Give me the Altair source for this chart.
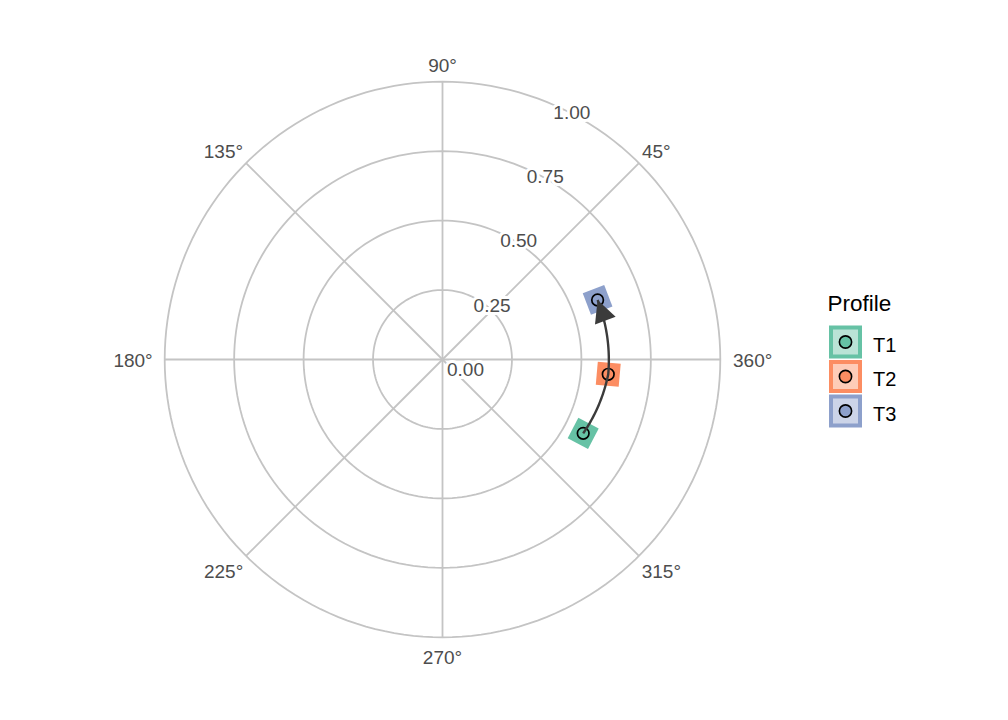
import math
import altair as alt
import numpy as np
import pandas as pd

# ---------------- data ----------------
profiles = ["T1", "T2", "T3"]
profile_r = [0.572, 0.599, 0.598]
profile_theta = [-27.7, -5.1, 21.0]          # degrees, counter-clockwise from 3 o'clock
profile_colors = ["#66c2a5", "#fc8d62", "#8da0cb"]

ring_breaks = [0.25, 0.50, 0.75, 1.00]
radial_tick_values = [0.00, 0.25, 0.50, 0.75, 1.00]
radial_tick_labels = ["0.00", "0.25", "0.50", "0.75", "1.00"]
angle_tick_values = [45, 90, 135, 180, 225, 270, 315, 360]
angle_tick_labels = ["45°", "90°", "135°", "180°", "225°", "270°", "315°", "360°"]
spoke_angles = [0, 45, 90, 135, 180, 225, 270, 315]
legend_title = "Profile"

# ---------------- layout / style ----------------
R_PX = 277.8                 # pixels per radius unit
W, H = 992, 704              # plot area (page minus 8px margins)
CX, CY = 434.5, 351.5        # pole position inside plot area
FONT = "Liberation Sans"
GRID = "#c4c4c4"
AXIS_TXT = "#4d4d4d"
RADIAL_LABEL_ANGLE = 67.5

xdom = [-CX / R_PX, (W - CX) / R_PX]
ydom = [-(H - CY) / R_PX, CY / R_PX]
X = lambda f: alt.X(f, type="quantitative", scale=alt.Scale(domain=xdom, nice=False, zero=False), axis=None)
Y = lambda f: alt.Y(f, type="quantitative", scale=alt.Scale(domain=ydom, nice=False, zero=False), axis=None)
cscale = alt.Scale(domain=profiles, range=profile_colors)


def pol(r, deg):
    a = math.radians(deg)
    return r * math.cos(a), r * math.sin(a)


def page_to_unit(px, py):
    return (px - 8 - CX) / R_PX, -(py - 8 - CY) / R_PX


# ---------------- grid ----------------
ring_rows = []
for rb in ring_breaks:
    for i, d in enumerate(range(0, 361, 2)):
        x, y = pol(rb, d)
        ring_rows.append({"ring": rb, "i": i, "x": x, "y": y})
rings = alt.Chart(pd.DataFrame(ring_rows)).mark_line(color=GRID, strokeWidth=1.8).encode(
    x=X("x"), y=Y("y"), detail="ring:N", order="i:Q")

spoke_rows = []
for a in spoke_angles:
    x2, y2 = pol(1.0, a)
    spoke_rows.append({"x": 0.0, "y": 0.0, "x2": x2, "y2": y2})
spokes = alt.Chart(pd.DataFrame(spoke_rows)).mark_rule(color=GRID, strokeWidth=1.8).encode(
    x=X("x"), y=Y("y"), x2="x2:Q", y2="y2:Q")

# radial tick labels (with white halo over grid)
rl_rows = []
for v, lab in zip(radial_tick_values, radial_tick_labels):
    x, y = pol(v, RADIAL_LABEL_ANGLE)
    rl_rows.append({"x": x, "y": y, "label": lab})
rl_df = pd.DataFrame(rl_rows)
rl_common = dict(align="left", baseline="alphabetic", dx=4.5, dy=16.3, font=FONT, fontSize=19)
rl_halo = alt.Chart(rl_df).mark_text(color="white", stroke="white", strokeWidth=6, **rl_common).encode(
    x=X("x"), y=Y("y"), text="label:N")
rl_text = alt.Chart(rl_df).mark_text(color=AXIS_TXT, **rl_common).encode(
    x=X("x"), y=Y("y"), text="label:N")

# angle tick labels
angle_style = {  # align, dx, dy
    45: ("left", 3.0, -4.8), 90: ("center", 0, -10.0), 135: ("right", -3.0, -4.8),
    180: ("right", -12.0, 7.3), 225: ("right", -2.8, 21.8), 270: ("center", 0, 26.7),
    315: ("left", 2.8, 21.8), 360: ("left", 12.7, 7.3),
}
angle_layers = []
for v, lab in zip(angle_tick_values, angle_tick_labels):
    x, y = pol(1.0, v)
    al, dx, dy = angle_style[v]
    angle_layers.append(
        alt.Chart(pd.DataFrame([{"x": x, "y": y, "label": lab}])).mark_text(
            align=al, baseline="alphabetic", dx=dx, dy=dy, font=FONT, fontSize=19, color=AXIS_TXT
        ).encode(x=X("x"), y=Y("y"), text="label:N"))

# ---------------- data marks ----------------
pts = []
for p, r, t in zip(profiles, profile_r, profile_theta):
    x, y = pol(r, t)
    pts.append({"profile": p, "x": x, "y": y, "rot": -t})
pts_df = pd.DataFrame(pts)

squares = alt.Chart(pts_df).mark_point(shape="square", filled=True, size=529, opacity=1).encode(
    x=X("x"), y=Y("y"), color=alt.Color("profile:N", scale=cscale, legend=None), angle=alt.Angle("rot:Q", scale=None))
circles = alt.Chart(pts_df).mark_point(shape="circle", filled=True, size=135, opacity=1,
                                       stroke="black", strokeWidth=1.7).encode(
    x=X("x"), y=Y("y"), fill=alt.Fill("profile:N", scale=cscale, legend=None))

# arrow path: straight path in (r, theta) space, drawn through the polar transform
path_rows = []
k = 0
for j in range(len(profiles) - 1):
    r0, r1 = profile_r[j], profile_r[j + 1]
    t0, t1 = profile_theta[j], profile_theta[j + 1]
    for s in np.linspace(0, 1, 40)[: -1 if j < len(profiles) - 2 else None]:
        x, y = pol(r0 + s * (r1 - r0), t0 + s * (t1 - t0))
        path_rows.append({"k": k, "x": x, "y": y})
        k += 1
path_df = pd.DataFrame(path_rows)
ARROW = "#3b3b3b"
arrow_line = alt.Chart(path_df).mark_line(color=ARROW, strokeWidth=2.4).encode(
    x=X("x"), y=Y("y"), order="k:Q")

xe, ye = path_rows[-1]["x"], path_rows[-1]["y"]
xp, yp = path_rows[-3]["x"], path_rows[-3]["y"]
dxs, dys = (xe - xp), -(ye - yp)
head_angle = math.degrees(math.atan2(dxs, -dys)) % 360
arrow_head = alt.Chart(pd.DataFrame([{"x": xe, "y": ye}])).mark_point(
    shape="M0,0L0.5,1L-0.5,1Z", filled=True, size=1936, color=ARROW, opacity=1, angle=head_angle
).encode(x=X("x"), y=Y("y"))

# ---------------- legend (drawn) ----------------
key_px_x, key_px_y0, key_step = 845.5, 342.0, 34.5
leg_rows = []
for i, p in enumerate(profiles):
    kx, ky = page_to_unit(key_px_x, key_px_y0 + i * key_step)
    leg_rows.append({"profile": p, "x": kx, "y": ky})
leg_df = pd.DataFrame(leg_rows)
leg_box = alt.Chart(leg_df).mark_point(shape="square", filled=True, size=841, fillOpacity=0.45,
                                       strokeOpacity=1, strokeWidth=4).encode(
    x=X("x"), y=Y("y"),
    fill=alt.Fill("profile:N", scale=cscale, legend=None),
    stroke=alt.Stroke("profile:N", scale=cscale, legend=None))
leg_circ = alt.Chart(leg_df).mark_point(shape="circle", filled=True, size=150, opacity=1,
                                        stroke="black", strokeWidth=1.6).encode(
    x=X("x"), y=Y("y"), fill=alt.Fill("profile:N", scale=cscale, legend=None))
leg_lab = alt.Chart(leg_df).mark_text(align="left", baseline="alphabetic", dx=873 - key_px_x, dy=9.5,
                                      font=FONT, fontSize=20, color="black").encode(
    x=X("x"), y=Y("y"), text="profile:N")
tx, ty = page_to_unit(827.5, 311.0)
leg_title = alt.Chart(pd.DataFrame([{"x": tx, "y": ty, "t": legend_title}])).mark_text(
    align="left", baseline="alphabetic", font=FONT, fontSize=22.5, color="black").encode(
    x=X("x"), y=Y("y"), text="t:N")

chart = alt.layer(
    rings, spokes, rl_halo, rl_text, *angle_layers,
    squares, circles, arrow_line, arrow_head,
    leg_box, leg_circ, leg_lab, leg_title,
).properties(width=W, height=H, padding=0, autosize=alt.AutoSizeParams(type="none")
).configure_view(stroke=None)

chart.save("out.html", embed_options={"renderer": "svg", "actions": False})
